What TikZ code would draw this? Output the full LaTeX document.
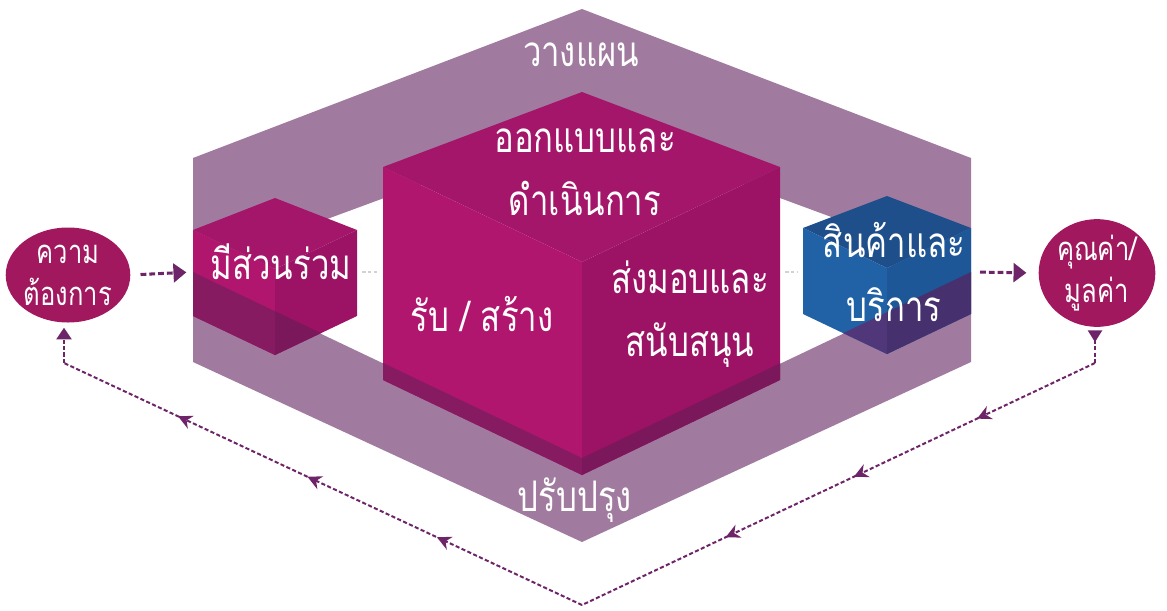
\documentclass[tikz,border=0pt]{standalone}
\usepackage{fontspec}
\newfontfamily\thaifont[Script=Thai,FakeStretch=0.78]{Loma}
\usetikzlibrary{shapes.geometric,arrows.meta,decorations.markings}

\definecolor{bandpurple}{HTML}{A17B9F}
\definecolor{goalred}{HTML}{A2185F}
\definecolor{arrowpurple}{HTML}{6E2468}
\definecolor{bigtop}{HTML}{A4166A}
\definecolor{bigleft}{HTML}{B1166E}
\definecolor{bigright}{HTML}{9C1264}
\definecolor{bigleftd}{HTML}{861B62}
\definecolor{bigrightd}{HTML}{7B175B}
\definecolor{blutop}{HTML}{1F4F8B}
\definecolor{bluleft}{HTML}{2162A6}
\definecolor{bluright}{HTML}{1D5797}
\definecolor{bluleftd}{HTML}{4F377A}
\definecolor{blurightd}{HTML}{46306E}

\begin{document}
\begin{tikzpicture}[x=0.03cm,y=-0.03cm,
  lbl/.style={text=white,font=\thaifont\fontsize{36}{54}\selectfont,align=center,inner sep=0pt},
  goal/.style={ellipse,fill=goalred,minimum width=3.5cm,minimum height=2.85cm,inner sep=0pt,
    text=white,align=center,font=\thaifont\fontsize{28}{36}\selectfont},
  flowarr/.style={draw=arrowpurple,line width=2.6pt,dash pattern=on 5pt off 2.5pt,
    -{Triangle[length=11pt,width=16pt]}},
  faint/.style={draw=gray!35,line width=1pt,dash pattern=on 3pt off 2pt},
  fback/.style={draw=arrowpurple,line width=1.7pt,dash pattern=on 3.5pt off 2pt},
  marksR/.style={postaction={decorate,decoration={markings,
    mark=at position 0.23 with {\arrow{Stealth[length=12pt,width=12pt]}},
    mark=at position 0.47 with {\arrow{Stealth[length=12pt,width=12pt]}},
    mark=at position 0.72 with {\arrow{Stealth[length=12pt,width=12pt]}}}}},
  marksL/.style={postaction={decorate,decoration={markings,
    mark=at position 0.28 with {\arrow{Stealth[length=12pt,width=12pt]}},
    mark=at position 0.53 with {\arrow{Stealth[length=12pt,width=12pt]}},
    mark=at position 0.78 with {\arrow{Stealth[length=12pt,width=12pt]}}}}},
]
\useasboundingbox (0,0) rectangle (1167,610);

% === ring ===
\fill[bandpurple,even odd rule]
  (582,9) -- (193,158) -- (193,362) -- (582,542) -- (971,362) -- (971,158) -- cycle
  (582,125) -- (273,239) -- (273,311) -- (582,458) -- (891,311) -- (891,239) -- cycle;
% front part of the ring (over the cubes)
\coordinate (f1) at (193,272); \coordinate (f2) at (582,458);
\coordinate (f3) at (971,272); \coordinate (f4) at (971,362);
\coordinate (f5) at (582,542); \coordinate (f6) at (193,362);

% === cubes ===
% big cube
\coordinate (bT) at (582,92);   \coordinate (bC) at (582,262);  \coordinate (bB) at (582,475);
\coordinate (bTL) at (383,167); \coordinate (bTR) at (780,167);
\coordinate (bBL) at (383,380); \coordinate (bBR) at (780,380);
\fill[bigtop] (bT) -- (bTL) -- (bC) -- (bTR) -- cycle;
\fill[bigleft] (bTL) -- (bC) -- (bB) -- (bBL) -- cycle;
\fill[bigright] (bC) -- (bTR) -- (bBR) -- (bB) -- cycle;

% left cube
\coordinate (sT) at (275,198);  \coordinate (sC) at (275,269);  \coordinate (sB) at (275,355);
\coordinate (sTL) at (193,230); \coordinate (sTR) at (357,230);
\coordinate (sBL) at (193,316); \coordinate (sBR) at (357,316);
\fill[bigtop] (sT) -- (sTL) -- (sC) -- (sTR) -- cycle;
\fill[bigleft] (sTL) -- (sC) -- (sB) -- (sBL) -- cycle;
\fill[bigright] (sC) -- (sTR) -- (sBR) -- (sB) -- cycle;

% right cube
\coordinate (pT) at (887,196);  \coordinate (pC) at (887,268);  \coordinate (pB) at (887,354);
\coordinate (pTL) at (803,228); \coordinate (pTR) at (971,228);
\coordinate (pBL) at (803,314); \coordinate (pBR) at (971,314);
\fill[blutop] (pT) -- (pTL) -- (pC) -- (pTR) -- cycle;
\fill[bluleft] (pTL) -- (pC) -- (pB) -- (pBL) -- cycle;
\fill[bluright] (pC) -- (pTR) -- (pBR) -- (pB) -- cycle;

% ring seen through the lower faces
\foreach \a/\b/\c/\d/\col in {bTL/bC/bB/bBL/bigleftd, bC/bTR/bBR/bB/bigrightd,
    sTL/sC/sB/sBL/bigleftd, sC/sTR/sBR/sB/bigrightd,
    pTL/pC/pB/pBL/bluleftd, pC/pTR/pBR/pB/blurightd}{
  \begin{scope}
    \clip (\a) -- (\b) -- (\c) -- (\d) -- cycle;
    \fill[\col] (f1) -- (f2) -- (f3) -- (f4) -- (f5) -- (f6) -- cycle;
  \end{scope}
}

% === labels ===
\node[lbl] (plan) at (581,55) {วางแผน};
\node[lbl] (improve) at (575,500) {ปรับปรุง};
\node[lbl] (design) at (585,172) {ออกแบบและ\\ดำเนินการ};
\node[lbl] (create) at (482,314) {รับ / สร้าง};
\node[lbl] (deliver) at (690,314) {ส่งมอบและ\\สนับสนุน};
\node[lbl] (engage) at (281,262) {มีส่วนร่วม};
\node[lbl] (product) at (894,272) {สินค้าและ\\บริการ};

% === goals ===
\node[goal] (needc) at (68,275) {ความ\\ต้องการ};
\node[goal] (valc) at (1097,273) {คุณค่า/\\มูลค่า};

% === flow ===
\coordinate (sL) at (193,272); \coordinate (sR) at (357,272);
\coordinate (bL) at (383,272); \coordinate (bR) at (780,272);
\coordinate (pL) at (803,272); \coordinate (pR) at (971,272);
\draw[flowarr,shorten <=0.3cm,shorten >=0.2cm] (needc.east) -- (sL);
\draw[faint,shorten <=0.15cm,shorten >=0.12cm] (sR) -- (bL);
\draw[faint,shorten <=0.15cm,shorten >=0.15cm] (bR) -- (pL);
\draw[flowarr,shorten <=0.27cm,shorten >=0.36cm] (pR) -- (valc.west);

% feedback loop
\coordinate (fbR) at (1095,363);
\coordinate (fbB) at (582,605);
\coordinate (fbL) at (64,363);
\draw[fback,{Triangle[reversed,length=10pt,width=12pt]}-,shorten <=0.1cm] (valc.south -| fbR) -- (fbR);
\draw[fback,marksR] (fbR) -- (fbB);
\draw[fback,marksL] (fbB) -- (fbL);
\draw[fback,-{Triangle[length=10pt,width=13pt]},shorten >=0.15cm] (fbL) -- (fbL |- needc.south);

\end{tikzpicture}
\end{document}
